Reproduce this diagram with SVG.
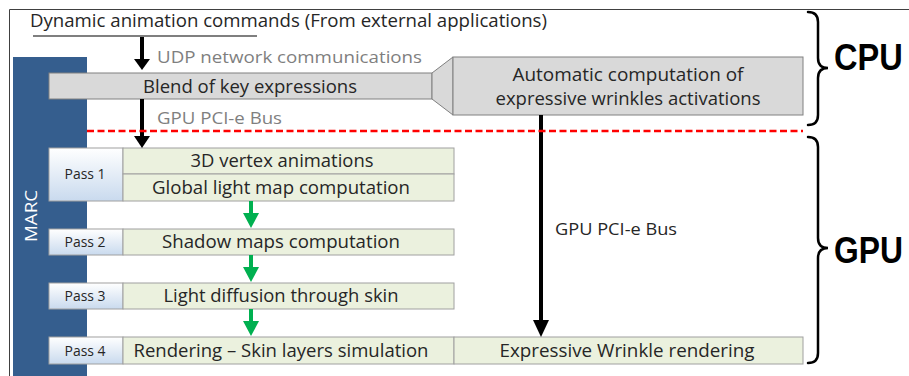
<svg xmlns="http://www.w3.org/2000/svg" width="909" height="376" viewBox="0 0 909 376">
<defs>
<linearGradient id="passGrad" x1="0" y1="0" x2="0" y2="1">
<stop offset="0" stop-color="#FFFFFF"/>
<stop offset="1" stop-color="#C9DAEE"/>
</linearGradient>
</defs>
<style>
text{font-family:"Open Sans","Liberation Sans",Arial,sans-serif;}
.t{font-size:17.5px;fill:#262626;}
.g{font-size:16.5px;fill:#7F7F7F;}
.pl{fill:url(#passGrad);stroke:#A0A0A0;stroke-width:1;}
.pc{fill:#EBF1DE;stroke:#A0A0A0;stroke-width:1;}
.pt{font-size:14px;fill:#262626;text-anchor:middle;}
.ct{font-size:17.5px;fill:#262626;text-anchor:middle;}
.cpu{fill:#D9D9D9;stroke:#808080;stroke-width:1;}
.blk{stroke:#000;stroke-width:4;fill:none;}
.grn{stroke:#00B050;stroke-width:4;fill:none;}
.brace{stroke:#000;stroke-width:2.5;fill:none;stroke-linecap:round;}
.big{font-family:"Liberation Sans",Arial,sans-serif;font-size:37px;font-weight:bold;fill:#000;}
</style>
<rect width="909" height="376" fill="#FFFFFF"/>
<path d="M9.5 376 V9.5 H909" fill="none" stroke="#404040" stroke-width="1"/>

<g id="title">
<text x="30" y="27" class="t" textLength="517" lengthAdjust="spacingAndGlyphs">Dynamic animation commands (From external applications)</text>
<line x1="33" y1="36" x2="257" y2="36" stroke="#000" stroke-width="1.2"/>
</g>

<g id="marc">
<rect x="13" y="57" width="74" height="319" fill="#355E8E"/>
<text transform="translate(37 216) rotate(-90)" text-anchor="middle" font-size="17" fill="#FFFFFF" textLength="52" lengthAdjust="spacingAndGlyphs">MARC</text>
</g>

<g id="blend">
<rect x="49" y="73" width="383" height="26" class="cpu"/>
<text x="250" y="93" class="ct" textLength="214" lengthAdjust="spacingAndGlyphs">Blend of key expressions</text>
</g>

<g id="auto">
<polygon points="432,73 453,57 453,115 432,99" class="cpu"/>
<rect x="453" y="57" width="350" height="58" class="cpu"/>
<text x="628" y="81" class="ct" textLength="231" lengthAdjust="spacingAndGlyphs">Automatic computation of</text>
<text x="628" y="105" class="ct" textLength="265" lengthAdjust="spacingAndGlyphs">expressive wrinkles activations</text>
</g>

<g id="pass1">
<rect x="49" y="148" width="74" height="53" class="pl"/>
<text x="85" y="179" class="pt" textLength="41" lengthAdjust="spacingAndGlyphs">Pass 1</text>
<rect x="123" y="148" width="331" height="26" class="pc"/>
<rect x="123" y="174" width="331" height="27" class="pc"/>
<text x="282" y="167" class="ct" textLength="183" lengthAdjust="spacingAndGlyphs">3D vertex animations</text>
<text x="281" y="194" class="ct" textLength="258" lengthAdjust="spacingAndGlyphs">Global light map computation</text>
</g>

<g id="pass2">
<rect x="49" y="229" width="74" height="26" class="pl"/>
<text x="85" y="247" class="pt" textLength="41" lengthAdjust="spacingAndGlyphs">Pass 2</text>
<rect x="123" y="229" width="331" height="26" class="pc"/>
<text x="281" y="248" class="ct" textLength="238" lengthAdjust="spacingAndGlyphs">Shadow maps computation</text>
</g>

<g id="pass3">
<rect x="49" y="283" width="74" height="26" class="pl"/>
<text x="85" y="301" class="pt" textLength="41" lengthAdjust="spacingAndGlyphs">Pass 3</text>
<rect x="123" y="283" width="331" height="26" class="pc"/>
<text x="281" y="302" class="ct" textLength="235" lengthAdjust="spacingAndGlyphs">Light diffusion through skin</text>
</g>

<g id="pass4">
<rect x="49" y="337" width="74" height="27" class="pl"/>
<text x="85" y="356" class="pt" textLength="41" lengthAdjust="spacingAndGlyphs">Pass 4</text>
<rect x="123" y="337" width="331" height="27" class="pc"/>
<text x="281" y="357" class="ct" textLength="295" lengthAdjust="spacingAndGlyphs">Rendering – Skin layers simulation</text>
</g>

<g id="wrinkle">
<rect x="454" y="337" width="349" height="27" class="pc"/>
<text x="627" y="357" class="ct" textLength="255" lengthAdjust="spacingAndGlyphs">Expressive Wrinkle rendering</text>
</g>

<g id="connectors">
<line x1="142" y1="37" x2="142" y2="60" class="blk"/>
<polygon points="134,59 150,59 142,70" fill="#000"/>
<line x1="142" y1="99" x2="142" y2="137" class="blk"/>
<polygon points="134,136 150,136 142,148" fill="#000"/>
<line x1="541" y1="115" x2="541" y2="322" class="blk"/>
<polygon points="533,320 549,320 541,337" fill="#000"/>
<line x1="251" y1="201" x2="251" y2="215" class="grn"/>
<polygon points="243,213 259,213 251,228" fill="#00B050"/>
<line x1="251" y1="255" x2="251" y2="269" class="grn"/>
<polygon points="243,267 259,267 251,282" fill="#00B050"/>
<line x1="251" y1="309" x2="251" y2="323" class="grn"/>
<polygon points="243,321 259,321 251,336" fill="#00B050"/>
</g>

<g id="labels">
<text x="157" y="63" class="g" textLength="265" lengthAdjust="spacingAndGlyphs">UDP network communications</text>
<text x="157" y="124" class="g" textLength="125" lengthAdjust="spacingAndGlyphs">GPU PCI-e Bus</text>
<text x="555" y="235" font-size="16.5" fill="#262626" textLength="122" lengthAdjust="spacingAndGlyphs">GPU PCI-e Bus</text>
</g>

<line id="divider" x1="87" y1="131" x2="803" y2="131" stroke="#FF0000" stroke-width="2.5" stroke-dasharray="7,3.5"/>

<g id="cpu-brace">
<path d="M808 12 Q818 12 818 22 V58 Q818 68 828 68 Q818 68 818 78 V115 Q818 125 808 125" class="brace"/>
<text transform="translate(834 70) scale(0.88 1)" x="0" y="0" class="big">CPU</text>
</g>

<g id="gpu-brace">
<path d="M808 137 Q818 137 818 147 V238 Q818 248 828 248 Q818 248 818 258 V353 Q818 363 808 363" class="brace"/>
<text transform="translate(834 263) scale(0.86 1)" x="0" y="0" class="big">GPU</text>
</g>
</svg>
